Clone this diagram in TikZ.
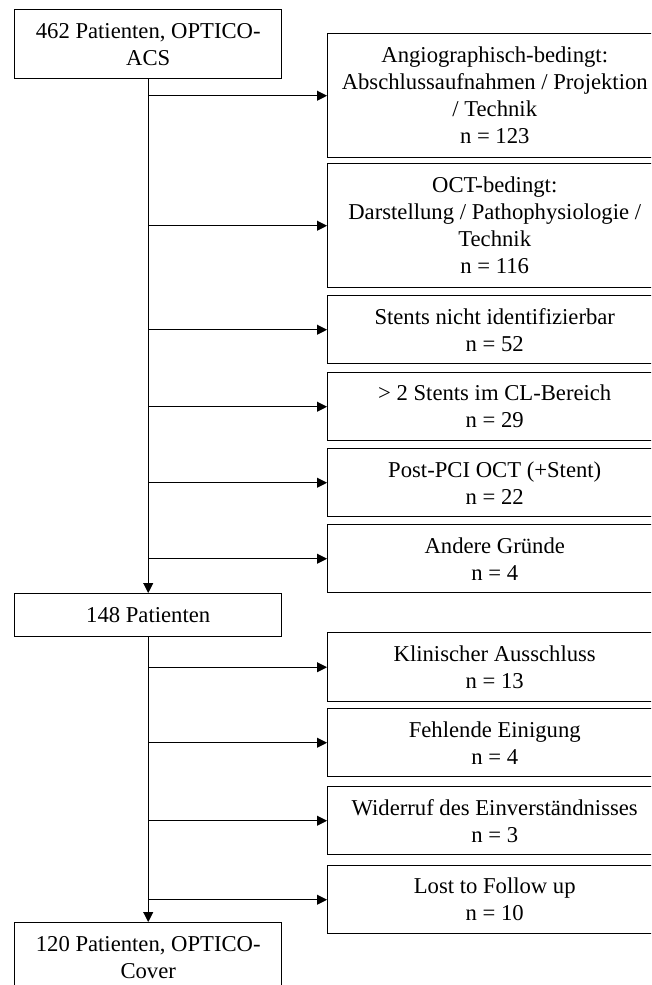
\documentclass[tikz,border=0pt]{standalone}
\usepackage{fontspec}
\setmainfont{Liberation Serif}
\usetikzlibrary{arrows.meta}

\begin{document}
\begin{tikzpicture}[x=0.75pt,y=-0.75pt,font=\fontsize{17}{20.25}\selectfont,
  box/.style={draw,line width=1.1pt,anchor=north west,align=center,inner sep=0pt},
  lbox/.style={box,minimum width=200.25pt},
  rbox/.style={box,minimum width=250.5pt,minimum height=51pt},
  arr/.style={line width=0.7pt,-{Triangle[length=7.5pt,width=7.5pt]}}]

\useasboundingbox (0,0) rectangle (651,985);
\clip (0,0) rectangle (651,985);

\begin{scope}
\node[lbox,minimum height=51.75pt] (p462) at (14,9) {462 Patienten, OPTICO-\\ACS};
\node[lbox,minimum height=32.25pt] (p148) at (14,593) {148 Patienten};
\node[lbox,minimum height=51.75pt] (p120) at (14,922) {120 Patienten, OPTICO-\\Cover};

\node[rbox,minimum height=93pt] (angio) at (327,33) {Angiographisch-bedingt:\\Abschlussaufnahmen / Projektion\\/ Technik\\n = 123};
\node[rbox,minimum height=93pt] (oct) at (327,163) {OCT-bedingt:\\Darstellung / Pathophysiologie /\\Technik\\n = 116};
\node[rbox] (stents) at (327,295) {Stents nicht identifizierbar\\n = 52};
\node[rbox] (clber) at (327,372) {> 2 Stents im CL-Bereich\\n = 29};
\node[rbox] (postpci) at (327,448) {Post-PCI OCT (+Stent)\\n = 22};
\node[rbox] (andere) at (327,524) {Andere Gründe\\n = 4};

\node[rbox,minimum height=51.75pt] (klin) at (327,632) {Klinischer Ausschluss\\n = 13};
\node[rbox] (einig) at (327,708) {Fehlende Einigung\\n = 4};
\node[rbox] (widerruf) at (327,786) {Widerruf des Einverständnisses\\n = 3};
\node[rbox] (lost) at (327,865) {Lost to Follow up\\n = 10};

\draw[arr] (p462) -- (p148);
\draw[arr] (p148) -- (p120);

\draw[arr] (p462.south |- angio.west) -- (angio.west);
\draw[arr] (p462.south |- oct.west) -- (oct.west);
\draw[arr] (p462.south |- stents.west) -- (stents.west);
\draw[arr] (p462.south |- clber.west) -- (clber.west);
\draw[arr] (p462.south |- postpci.west) -- (postpci.west);
\draw[arr] (p462.south |- andere.west) -- (andere.west);

\draw[arr] (p148.south |- klin.west) -- (klin.west);
\draw[arr] (p148.south |- einig.west) -- (einig.west);
\draw[arr] (p148.south |- widerruf.west) -- (widerruf.west);
\draw[arr] (p148.south |- lost.west) -- (lost.west);
\end{scope}

\end{tikzpicture}
\end{document}
